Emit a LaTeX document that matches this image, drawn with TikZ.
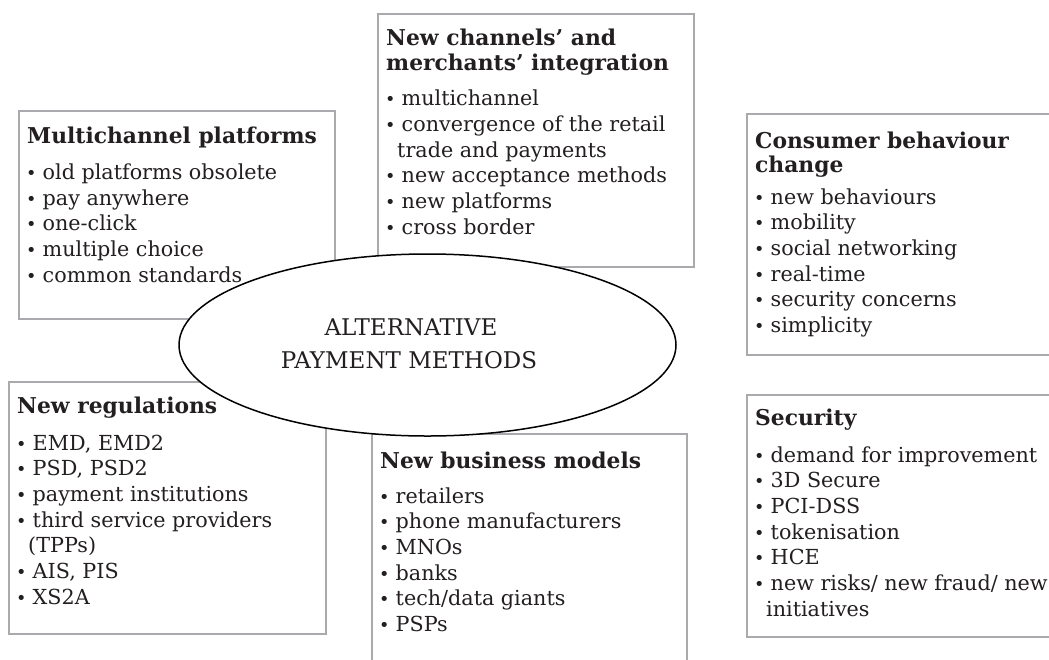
\documentclass[tikz,border=0pt]{standalone}
\usepackage{fontspec}
\usepackage{graphicx}
\setmainfont{DejaVu Serif}
\usetikzlibrary{shapes.geometric}

\definecolor{ink}{RGB}{35,31,32}
\definecolor{framegray}{RGB}{170,170,174}

% one bold heading line, one bulleted line, one continuation line
\newcommand\heading[1]{\hbox{\fontsize{21.8pt}{25.7pt}\selectfont\bfseries #1}}
\newcommand\point[1]{\hbox{\makebox[15.5pt][l]{\hspace{-1.2pt}\scalebox{0.85}{\textbullet}}#1}}
\newcommand\wrapped[1]{\hbox{\hspace{11pt}#1}}
% vertical stack of lines whose reference point is the first baseline
\newcommand\stack[1]{\vtop{\baselineskip=25.7pt\lineskiplimit=-1000pt\lineskip=0pt #1}}

\begin{document}
\begin{tikzpicture}[x=1pt,y=-1pt,
  every node/.style={font=\fontsize{20.7pt}{25.7pt}\selectfont, text=ink},
  frame/.style={draw=framegray, line width=2.4pt, fill=white,
    rectangle, anchor=north west, inner sep=0pt},
  hub/.style={ellipse, draw=black, line width=1.5pt, fill=white,
    inner sep=0pt, minimum width=497pt, minimum height=182pt},
  blurb/.style={anchor=base west, inner sep=0pt},
  caption/.style={anchor=base, inner sep=0pt,
    font=\fontsize{23pt}{28pt}\selectfont}]
\useasboundingbox (0,0) rectangle (1049,659);
\clip (0,0) rectangle (1049,659);
\fill[white] (0,0) rectangle (1049,659);

% frames
\node[frame, minimum width=316pt, minimum height=208pt] (fA) at (18,110) {};
\node[frame, minimum width=316pt, minimum height=253pt] (fB) at (377,13) {};
\node[frame, minimum width=330pt, minimum height=241pt] (fC) at (746,113) {};
\node[frame, minimum width=317pt, minimum height=252pt] (fD) at (8,381) {};
\node[frame, minimum width=315pt, minimum height=250pt] (fE) at (371,433) {};
\node[frame, minimum width=330pt, minimum height=242pt] (fF) at (746,394) {};

% frame texts
\node[blurb] (tA) at (27,143) {\stack{%
  \heading{Multichannel platforms}\vskip10.8pt
  \point{old platforms obsolete}
  \point{pay anywhere}
  \point{one-click}
  \point{multiple choice}
  \point{common standards}}};

\node[blurb] (tB) at (386,45) {\stack{%
  \heading{New channels’ and}
  \heading{merchants’ integration}\vskip9.3pt
  \point{multichannel}
  \point{convergence of the retail}
  \wrapped{trade and payments}
  \point{new acceptance methods}
  \point{new platforms}
  \point{cross border}}};

\node[blurb] (tC) at (755,148) {\stack{%
  \heading{Consumer behaviour}\vskip-1.7pt
  \heading{change}\vskip6.3pt
  \point{new behaviours}
  \point{mobility}
  \point{social networking}
  \point{real-time}
  \point{security concerns}
  \point{simplicity}}};

\node[blurb] (tD) at (17,413) {\stack{%
  \heading{New regulations}\vskip11.3pt
  \point{EMD, EMD2}
  \point{PSD, PSD2}
  \point{payment institutions}
  \point{third service providers}
  \wrapped{(TPPs)}
  \point{AIS, PIS}
  \point{XS2A}}};

\node[blurb] (tE) at (380,468) {\stack{%
  \heading{New business models}\vskip9.3pt
  \point{retailers}
  \point{phone manufacturers}
  \point{MNOs}
  \point{banks}
  \point{tech/data giants}
  \point{PSPs}}};

\node[blurb] (tF) at (755,425) {\stack{%
  \heading{Security}\vskip11.3pt
  \point{demand for improvement}
  \point{3D Secure}
  \point{PCI-DSS}
  \point{tokenisation}
  \point{HCE}
  \point{new risks/ new fraud/ new}
  \wrapped{initiatives}}};

% central ellipse
\node[hub] (core) at (427.5,345) {};
\node[caption] (coreA) at (411,335) {ALTERNATIVE};
\node[caption] (coreB) at (409,368) {PAYMENT METHODS};
\end{tikzpicture}
\end{document}
